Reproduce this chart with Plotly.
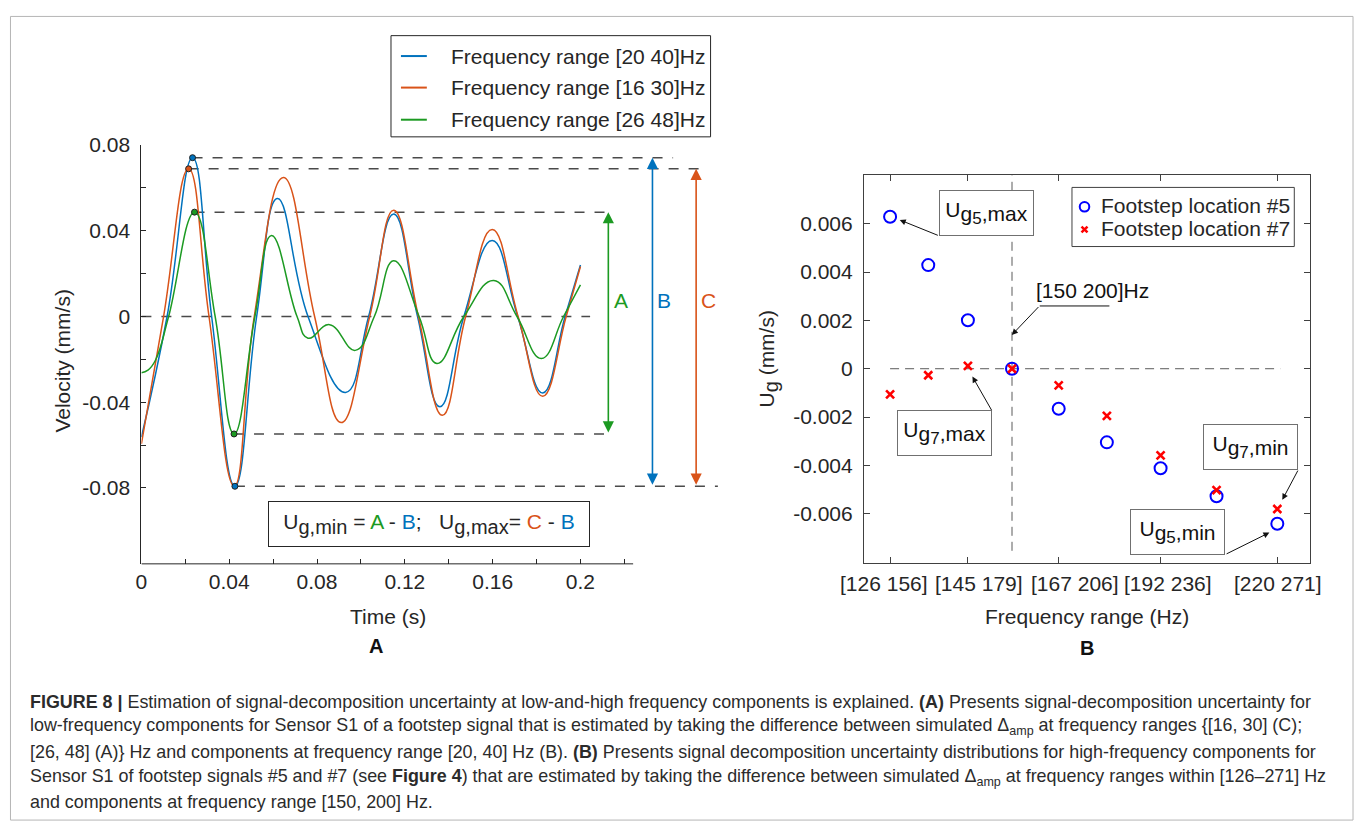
import plotly.graph_objects as go

# ---------------- Panel A: band-passed velocity signals ----------------
time_20_40 = [0.0, 0.0117, 0.0233, 0.0320, 0.0426, 0.0525, 0.0620, 0.0759, 0.0930,
              0.1035, 0.1149, 0.1258, 0.1360, 0.1469, 0.1598, 0.1714, 0.1828, 0.1930, 0.2000]
vel_20_40 = [-0.0563, 0.0, 0.0741, 0.0, -0.0792, 0.0, 0.0551, 0.0, -0.0354,
             0.0, 0.0478, 0.0, -0.0421, 0.0, 0.0355, 0.0, -0.0357, 0.0, 0.0240]

time_16_30 = [0.0, 0.0101, 0.0215, 0.0308, 0.0423, 0.0514, 0.0647, 0.0789, 0.0910,
              0.1040, 0.1149, 0.1262, 0.1371, 0.1477, 0.1598, 0.1716, 0.1828, 0.1935, 0.2000]
vel_16_30 = [-0.0594, 0.0, 0.0689, 0.0, -0.0792, 0.0, 0.0649, 0.0, -0.0495,
             0.0, 0.0496, 0.0, -0.0461, 0.0, 0.0406, 0.0, -0.0372, 0.0, 0.0233]

time_26_48 = [0.0, 0.0030, 0.0064, 0.0124, 0.0242, 0.0336, 0.0422, 0.0517, 0.0593, 0.0709,
              0.0759, 0.0857, 0.0974, 0.1061, 0.1149, 0.1265, 0.1346, 0.1469, 0.1605,
              0.1711, 0.1822, 0.1923, 0.2000]
vel_26_48 = [-0.0262, -0.0250, -0.0204, 0.0, 0.0487, 0.0, -0.0548, 0.0, 0.0378, 0.0,
             -0.0101, -0.0038, -0.0158, 0.0, 0.0260, 0.0, -0.0219, 0.0, 0.01685,
             0.0, -0.0196, 0.0, 0.0148]

band_names = ["Frequency range [20 40]Hz", "Frequency range [16 30]Hz", "Frequency range [26 48]Hz"]
band_colors = ["#0072BD", "#D95319", "#1C9A22"]

time_ticks = [0.0, 0.02, 0.04, 0.06, 0.08, 0.10, 0.12, 0.14, 0.16, 0.18, 0.20, 0.22]
time_labels = ["0", "", "0.04", "", "0.08", "", "0.12", "", "0.16", "", "0.2", ""]
vel_ticks = [-0.08, -0.06, -0.04, -0.02, 0.0, 0.02, 0.04, 0.06, 0.08]
vel_labels = ["-0.08", "", "-0.04", "", "0", "", "0.04", "", "0.08"]

# ---------------- Panel B: decomposition uncertainty ----------------
freq_center = [141.0, 151.3, 162.0, 173.9, 186.5, 199.5, 214.0, 229.1, 245.5]
ug_loc5 = [0.00629, 0.00429, 0.00201, 0.0, -0.00166, -0.00305, -0.00412, -0.00528, -0.00642]
ug_loc7 = [-0.00106, -0.00027, 0.00012, 0.0, -0.00069, -0.00195, -0.00359, -0.00503, -0.00581]
loc_names = ["Footstep location #5", "Footstep location #7"]

band_tick_pos = [141.0, 162.0, 186.5, 214.0, 245.5]
band_tick_labels = ["[126 156]", "[145 179]", "[167 206]", "[192 236]", "[220 271]"]
ug_ticks = [-0.006, -0.004, -0.002, 0.0, 0.002, 0.004, 0.006]
ug_labels = ["-0.006", "-0.004", "-0.002", "0", "0.002", "0.004", "0.006"]

W, H = 1358, 825
FONT = "Liberation Sans, Arial, Helvetica, sans-serif"
INK = "#262626"


def px(x):
    return x / W


def py(y):
    return 1 - y / H


def label(x, y, text, size=21, color=INK, **kw):
    d = dict(x=px(x), y=py(y), xref="paper", yref="paper", text=text, showarrow=False,
             xanchor="center", yanchor="middle", font=dict(size=size, color=color, family=FONT))
    d.update(kw)
    return d


def sub(text, size=20):
    return "<sub><span style='font-size:%dpx'>%s</span></sub>" % (size, text)


fig = go.Figure()

series = [(time_20_40, vel_20_40), (time_16_30, vel_16_30), (time_26_48, vel_26_48)]
for (t, v), name, col in zip(series, band_names, band_colors):
    fig.add_trace(go.Scatter(x=t, y=v, mode="lines", name=name,
                             line=dict(color=col, width=1.5, shape="spline", smoothing=1.3),
                             xaxis="x", yaxis="y", showlegend=False, hoverinfo="skip"))

# extreme points used to define the ranges A, B, C
i_max = [v.index(max(v)) for _, v in series]
i_min = [v.index(min(v)) for _, v in series]
ext_t = [series[0][0][i_max[0]], series[1][0][i_max[1]], series[2][0][i_max[2]],
         series[2][0][i_min[2]], series[0][0][i_min[0]]]
ext_v = [series[0][1][i_max[0]], series[1][1][i_max[1]], series[2][1][i_max[2]],
         series[2][1][i_min[2]], series[0][1][i_min[0]]]
ext_c = [band_colors[0], band_colors[1], band_colors[2], band_colors[2], band_colors[0]]
fig.add_trace(go.Scatter(x=ext_t, y=ext_v, mode="markers", xaxis="x", yaxis="y",
                         marker=dict(size=6, color=ext_c, line=dict(color="#202020", width=1)),
                         showlegend=False, hoverinfo="skip"))

# right panel points
fig.add_trace(go.Scatter(x=freq_center, y=ug_loc5, mode="markers", name=loc_names[0],
                         xaxis="x2", yaxis="y2", showlegend=False, hoverinfo="skip",
                         marker=dict(symbol="circle-open", size=12, color="#0000FF",
                                     line=dict(width=2, color="#0000FF"))))
fig.add_trace(go.Scatter(x=freq_center, y=ug_loc7, mode="markers", name=loc_names[1],
                         xaxis="x2", yaxis="y2", showlegend=False, hoverinfo="skip",
                         marker=dict(symbol="x-thin-open", size=8, color="#FF0000",
                                     line=dict(width=2.6, color="#FF0000"))))

shapes = []
annotations = []
DASH = dict(color="#4a4a4a", width=1.5, dash="10px,10px")

# level lines in panel A
blue_max, orange_max, green_max, green_min, blue_min = ext_v
levels = [
    (blue_max, ext_t[0], 0.2422),
    (orange_max, ext_t[1], 0.2580),
    (green_max, ext_t[2], 0.2150),
    (0.0, 0.0, 0.2044),
    (green_min, ext_t[3], 0.2135),
    (blue_min, ext_t[4], 0.2626),
]
for yv, x0, x1 in levels:
    shapes.append(dict(type="line", xref="x", yref="y", x0=x0, x1=x1, y0=yv, y1=yv,
                       line=DASH, layer="below"))

# bottom axis line of panel A
shapes.append(dict(type="line", xref="x", yref="paper", x0=0, x1=0.224,
                   y0=py(560), y1=py(560), line=dict(color=INK, width=1)))

# double-headed range arrows A, B, C
ranges = [(0.2127, green_max, green_min, band_colors[2], "A", 0.2187),
          (0.2328, blue_max, blue_min, band_colors[0], "B", 0.2381),
          (0.2527, orange_max, blue_min, band_colors[1], "C", 0.2585)]
for xa, ytop, ybot, col, lab, xl in ranges:
    annotations.append(dict(x=xa, y=ytop, ax=xa, ay=ybot, xref="x", yref="y",
                            axref="x", ayref="y", text="", showarrow=True,
                            arrowhead=2, startarrowhead=2, arrowside="end+start",
                            arrowsize=1.4, startarrowsize=1.4, arrowwidth=1.6,
                            arrowcolor=col))
    annotations.append(dict(x=xl, y=0.0075, xref="x", yref="y", text=lab, showarrow=False,
                            xanchor="center", yanchor="middle",
                            font=dict(size=21, color=col, family=FONT)))

# legend of panel A
shapes.append(dict(type="rect", xref="paper", yref="paper", x0=px(386.7), x1=px(707.7),
                   y0=py(126.7), y1=py(24), line=dict(color=INK, width=1), fillcolor="white"))
for k, (name, col) in enumerate(zip(band_names, band_colors)):
    yy = [44.7, 76.7, 109.3][k]
    shapes.append(dict(type="line", xref="paper", yref="paper", x0=px(396.7), x1=px(422.7),
                       y0=py(yy), y1=py(yy), line=dict(color=col, width=2)))
    annotations.append(label(445, yy, name, xanchor="left"))

# formula box of panel A
formula = ("U" + sub("g,min") + " = <span style='color:%s'>A</span> - "
           "<span style='color:%s'>B</span>;&nbsp;&nbsp;&nbsp;U" + sub("g,max") + "= "
           "<span style='color:%s'>C</span> - <span style='color:%s'>B</span>") % (
    band_colors[2], band_colors[0], band_colors[1], band_colors[0])
annotations.append(label(425.3, 519.3, formula, width=320, height=44, borderpad=0,
                         bordercolor=INK, borderwidth=1, bgcolor="white"))

# axis titles and panel letters
annotations += [
    label(383.3, 613.3, "Time (s)"),
    label(57, 354, "Velocity (mm/s)", textangle=-90),
    label(371.7, 643, "<b>A</b>", size=20, color="#111"),
    label(1085.5, 613.3, "Frequency range (Hz)"),
    label(766, 352, "U" + sub("g") + " (mm/s)", textangle=-90),
    label(1085.5, 645, "<b>B</b>", size=20, color="#111"),
]

# band labels under panel B ticks (nudged sideways so neighbours do not collide)
band_label_shift = [-5.7, 11.2, 16.7, 7.7, 0.6]
for pos, txt, dx in zip(band_tick_pos, band_tick_labels, band_label_shift):
    annotations.append(dict(x=pos, y=py(580), xref="x2", yref="paper", text=txt,
                            showarrow=False, xanchor="center", yanchor="middle", xshift=dx,
                            font=dict(size=21, color=INK, family=FONT)))

# reference lines of panel B
DASH2 = dict(color="#5a5a5a", width=1, dash="9px,6px")
shapes.append(dict(type="line", xref="x2", yref="y2", x0=freq_center[3], x1=freq_center[3],
                   y0=-0.00754, y1=0.00801, line=DASH2, layer="below"))
shapes.append(dict(type="line", xref="x2", yref="y2", x0=freq_center[0], x1=246.3,
                   y0=0, y1=0, line=DASH2, layer="below"))

# legend of panel B
shapes.append(dict(type="rect", xref="paper", yref="paper", x0=px(1070.7), x1=px(1294),
                   y0=py(238), y1=py(178), line=dict(color="#404040", width=1), fillcolor="white"))
shapes.append(dict(type="circle", xref="paper", yref="paper", x0=px(1078.5), x1=px(1088.1),
                   y0=py(202.5), y1=py(192.9), line=dict(color="#0000FF", width=2)))
shapes.append(dict(type="line", xref="paper", yref="paper", x0=px(1080.3), x1=px(1086.3),
                   y0=py(217.7), y1=py(223.7), line=dict(color="#FF0000", width=2.5)))
shapes.append(dict(type="line", xref="paper", yref="paper", x0=px(1080.3), x1=px(1086.3),
                   y0=py(223.7), y1=py(217.7), line=dict(color="#FF0000", width=2.5)))
for name, yy in zip(loc_names, [196.5, 220.0]):
    annotations.append(label(1098.3, yy, name, xanchor="left"))

# labelled boxes with arrows in panel B
SUB = ("<sub><span style='font-size:21px'>g</span><sub><span style='font-size:17px'>%s</span>"
       "</sub><span style='font-size:21px'>,%s</span></sub>")
boxes = [
    ("U" + SUB % ("5", "max"), 984.5, 204.0),
    ("U" + SUB % ("7", "max"), 943.0, 427.7),
    ("U" + SUB % ("7", "min"), 1250.5, 441.3),
    ("U" + SUB % ("5", "min"), 1177.0, 527.7),
]
for txt, cx, cy in boxes:
    annotations.append(label(cx, cy, txt, color="#111", width=93, height=44, borderpad=0,
                             bordercolor="#707070", borderwidth=1, bgcolor="white"))

arrows = [  # head (x, y), tail (x, y) in pixels
    ((897.7, 211.0), (937.3, 227.0)),
    ((1010.3, 327.7), (1038.3, 298.3)),
    ((970.7, 370.0), (990.7, 405.0)),
    ((1282.0, 495.0), (1298.3, 464.3)),
    ((1269.0, 528.3), (1224.7, 550.3)),
]
for (hx, hy), (tx, ty) in arrows:
    annotations.append(dict(x=px(hx), y=py(hy), xref="paper", yref="paper",
                            ax=tx - hx, ay=ty - hy, text="", showarrow=True,
                            arrowhead=2, arrowsize=1.2, arrowwidth=1, arrowcolor="#111"))
shapes.append(dict(type="line", xref="paper", yref="paper", x0=px(1038.3), x1=px(1108.3),
                   y0=py(298.3), y1=py(298.3), line=dict(color="#111", width=1)))
annotations.append(label(1032.7, 283, "[150 200]Hz", color="#111", xanchor="left"))

# caption
caption_lines = [
    "<b>FIGURE 8 |</b> Estimation of signal-decomposition uncertainty at low-and-high frequency components is explained. <b>(A)</b> Presents signal-decomposition uncertainty for",
    "low-frequency components for Sensor S1 of a footstep signal that is estimated by taking the difference between simulated Δ<sub>amp</sub> at frequency ranges {[16, 30] (C);",
    "[26, 48] (A)} Hz and components at frequency range [20, 40] Hz (B). <b>(B)</b> Presents signal decomposition uncertainty distributions for high-frequency components for",
    "Sensor S1 of footstep signals #5 and #7 (see <b>Figure 4</b>) that are estimated by taking the difference between simulated Δ<sub>amp</sub> at frequency ranges within [126–271] Hz",
    "and components at frequency range [150, 200] Hz.",
]
for k, line in enumerate(caption_lines):
    annotations.append(label(22, 700 + 25.5 * k, line, size=17.9, color="#2b2b2b",
                             xanchor="left"))

# outer frame
shapes.append(dict(type="rect", xref="paper", yref="paper", x0=px(4.5), x1=px(1353),
                   y0=py(820), y1=py(4.5), line=dict(color="#b5b5b5", width=1)))

tickfont = dict(size=21, color=INK, family=FONT)
fig.update_layout(
    width=W, height=H, autosize=False,
    margin=dict(l=0, r=0, t=0, b=0),
    paper_bgcolor="white", plot_bgcolor="white",
    showlegend=False,
    xaxis=dict(domain=[px(136), px(136 + 0.27 * 2205)], range=[0, 0.27],
               tickvals=time_ticks, ticktext=time_labels, ticks="inside", ticklen=5,
               tickcolor=INK, showline=False, showgrid=False, zeroline=False,
               tickfont=tickfont, ticklabelstandoff=3, tickangle=0, anchor="y"),
    yaxis=dict(domain=[py(560), py(135)], range=[-0.1154, 0.08],
               tickvals=vel_ticks, ticktext=vel_labels, ticks="inside", ticklen=5,
               tickcolor=INK, showline=True, linecolor=INK, linewidth=1,
               showgrid=False, zeroline=False, tickfont=tickfont, ticklabelstandoff=6,
               anchor="x"),
    xaxis2=dict(domain=[px(861.7), px(1309.3)], range=[133.93, 254.19],
                tickvals=band_tick_pos, showticklabels=False, ticks="inside", ticklen=6,
                tickcolor="#404040", showline=True, mirror="ticks", linecolor="#404040",
                linewidth=1, showgrid=False, zeroline=False, anchor="y2"),
    yaxis2=dict(domain=[py(559), py(165.7)], range=[-0.00804, 0.00801],
                tickvals=ug_ticks, ticktext=ug_labels, ticks="inside", ticklen=6,
                tickcolor="#404040", showline=True, mirror="ticks", linecolor="#404040",
                linewidth=1, showgrid=False, zeroline=False, tickfont=tickfont,
                ticklabelstandoff=6, anchor="x2"),
    shapes=shapes,
    annotations=annotations,
)

fig.write_html("out.html")
